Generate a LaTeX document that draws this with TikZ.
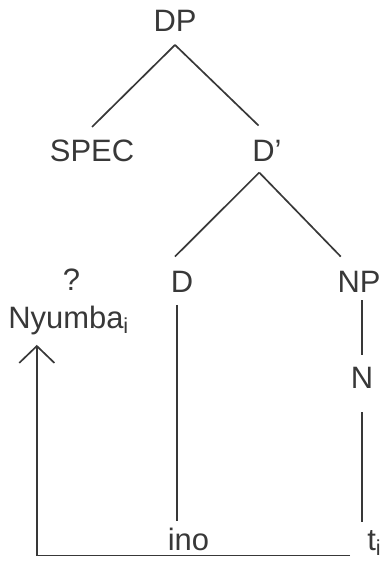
\documentclass[tikz,border=0pt]{standalone}
\usepackage{fontspec}
\setmainfont{Liberation Sans}
\usetikzlibrary{arrows.meta,calc}
\definecolor{ink}{HTML}{383838}

\begin{document}
\begin{tikzpicture}[x=0.025cm,y=-0.025cm]
    \useasboundingbox (0,0) rectangle (380,565);
    \begin{scope}[every node/.style={anchor=base, text=ink, inner sep=0pt,
                  text height=15pt, text depth=0pt, font=\fontsize{22}{26}\selectfont}]
        \node (DP) at (175,32) {DP};
        \node (SPEC) at (92,161) {SPEC};
        \node (Dbar) at (267,161) {D’};
        \node (D) at (182,292) {D};
        \node (NP) at (359,292) {NP};
        \node (N) at (362,388) {N};
        \node (q) at (71.5,290) {?};
        \node[anchor=base west] (Nyumba) at (8,328) {Nyumba\textsubscript{i}};
        \node (ino) at (188.5,550) {ino};
        \node[anchor=base west] (ti) at (367,550) {t\textsubscript{i}};
    \end{scope}

    \begin{scope}[every edge/.style={draw=ink, line width=1.2pt}]
        \path ([yshift=-9pt]DP.south) edge ([yshift=9pt]SPEC.north);
        \path ([yshift=-9pt]DP.south) edge ([xshift=-6pt,yshift=10pt]Dbar.north);
        \path ([xshift=-5.5pt,yshift=-8pt]Dbar.south) edge ([xshift=-5pt,yshift=10pt]D.north);
        \path ([xshift=-5.5pt,yshift=-8pt]Dbar.south) edge ([xshift=-13pt,yshift=10pt]NP.north);
        \path ($(N.north |- NP.south)+(0,-5.5pt)$) edge ($(N.north)+(0,8.5pt)$);
        \path ($(N.south)+(0,-17pt)$) edge ($(N.south |- ti.north)+(0,5pt)$);
        \path ($(D.south)+(-3.5pt,-9pt)$) edge ($(D.south |- ino.north)+(-3.5pt,5.5pt)$);
    \end{scope}
    \draw[ink, line width=1.2pt, -{Straight Barb[length=12pt,width=25pt]}]
        ($(ti.base west)+(-12pt,-4pt)$) -| ($(Nyumba.base west)+(20.5pt,-12pt)$);
\end{tikzpicture}
\end{document}
